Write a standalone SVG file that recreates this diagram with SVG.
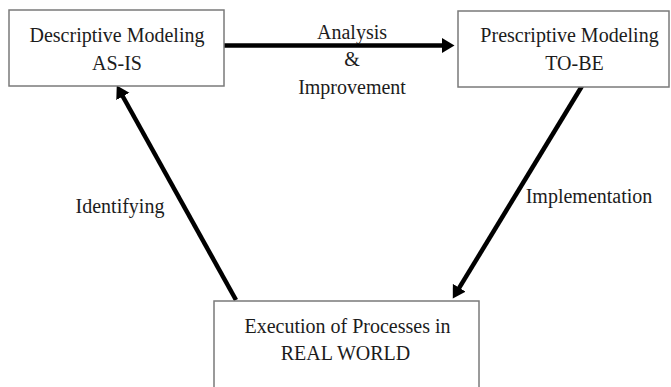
<svg xmlns="http://www.w3.org/2000/svg" width="671" height="387" viewBox="0 0 671 387">
<defs>
<style>
.box{fill:#fff;stroke:#7a7a7a;stroke-width:1.5}
.t{font-family:"Liberation Serif","Times New Roman",serif;font-size:20px;fill:#1c1c1c;text-anchor:middle}
.conn{stroke:#000;stroke-width:4.5;fill:none;marker-end:url(#ah)}
</style>
<marker id="ah" markerUnits="userSpaceOnUse" markerWidth="13" markerHeight="16" refX="4" refY="7.5" orient="auto">
<path d="M0,0 L12.5,7.5 L0,15 z" fill="#000"/>
</marker>
</defs>
<rect width="671" height="387" fill="#fff"/>
<g id="connectors">
<line class="conn" x1="224" y1="45.5" x2="446" y2="45.5"/>
<line class="conn" x1="236" y1="300" x2="120.9" y2="93"/>
<line class="conn" x1="582" y1="86" x2="457.2" y2="291.2"/>
</g>
<g id="labels">
<text class="t" x="352" y="39">Analysis</text>
<text class="t" x="352" y="66">&amp;</text>
<text class="t" x="352" y="94">Improvement</text>
<text class="t" x="120" y="213">Identifying</text>
<text class="t" x="589" y="203">Implementation</text>
</g>
<g id="descriptive">
<rect class="box" x="9" y="10" width="215" height="76"/>
<text class="t" x="117" y="42">Descriptive Modeling</text>
<text class="t" x="117" y="70">AS-IS</text>
</g>
<g id="prescriptive">
<rect class="box" x="458" y="11" width="211" height="76"/>
<text class="t" x="569.5" y="42">Prescriptive Modeling</text>
<text class="t" x="574.5" y="70">TO-BE</text>
</g>
<g id="execution">
<rect class="box" x="214" y="301" width="265" height="100"/>
<text class="t" x="347.5" y="333">Execution of Processes in</text>
<text class="t" x="345.5" y="360">REAL WORLD</text>
</g>
</svg>
